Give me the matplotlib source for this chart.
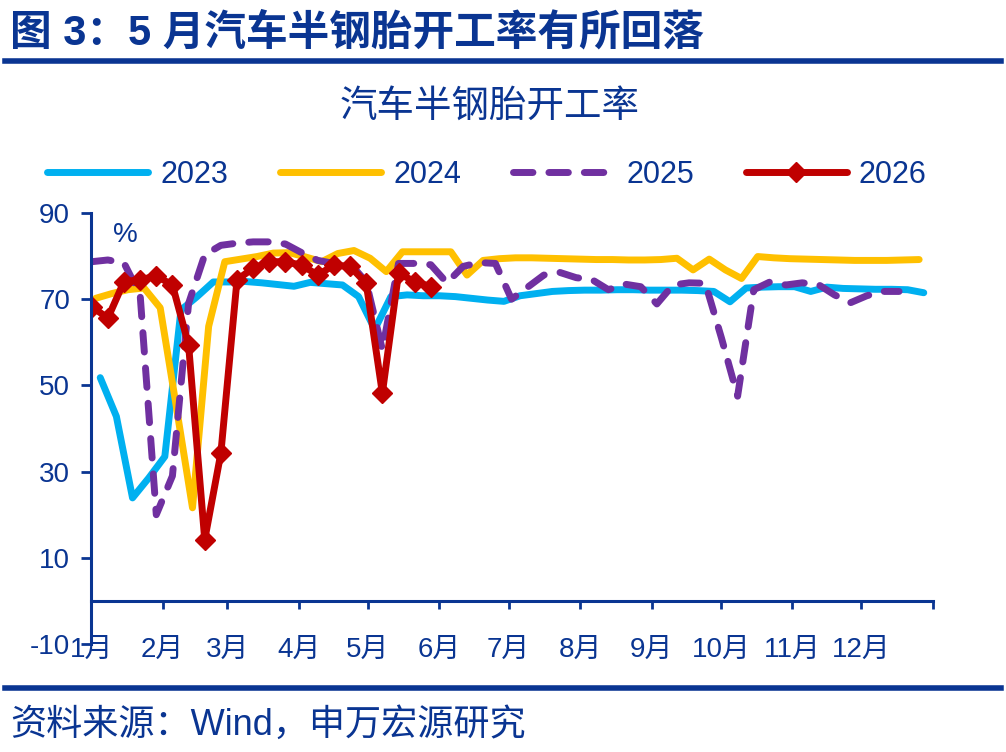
import numpy as np
import matplotlib.pyplot as plt
import matplotlib.lines as mlines

plt.rcParams['font.family'] = ['Liberation Sans', 'Noto Sans CJK SC', 'DejaVu Sans']
plt.rcParams['axes.unicode_minus'] = False

NAVY = '#0a3592'

# 周度数据（%）
y2023 = [51.8, 42.8, 23.9, 28.5, 33.5, 67.5, 70.6, 74.0, 74.0, 74.1, 73.8, 73.4, 73.0,
         73.9, 73.6, 73.3, 70.6, 63.0, 70.6, 71.0, 70.8, 70.8, 70.6, 70.2, 69.8, 69.5,
         70.8, 71.3, 71.8, 72.0, 72.1, 72.1, 72.2, 72.2, 72.1, 72.1, 72.1, 72.0, 71.8,
         69.4, 72.6, 72.8, 72.9, 72.9, 71.8, 72.8, 72.5, 72.4, 72.3, 72.3, 72.2, 71.5]
y2024 = [70.2, 71.3, 72.2, 72.6, 68.0, 45.0, 21.6, 63.7, 78.7, 79.3, 79.9, 80.7, 80.8,
         79.8, 78.7, 80.6, 81.3, 79.5, 76.4, 81.0, 81.0, 81.0, 81.0, 75.6, 79.0, 79.4,
         79.6, 79.6, 79.5, 79.4, 79.3, 79.2, 79.2, 79.1, 79.1, 79.2, 79.5, 76.8, 79.3,
         76.8, 74.8, 79.9, 79.6, 79.4, 79.3, 79.2, 79.1, 79.0, 79.0, 79.0, 79.1, 79.2]
y2025 = [78.7, 79.1, 78.4, 71.0, 20.0, 29.0, 69.0, 80.3, 82.5, 83.0, 83.3, 83.3, 82.8,
         80.8, 79.0, 78.3, 78.3, 74.0, 58.3, 78.3, 78.3, 78.0, 73.8, 77.6, 78.5, 78.3,
         70.0, 72.8, 75.6, 76.2, 75.0, 74.5, 72.2, 73.5, 72.9, 68.9, 73.3, 73.8, 73.7,
         61.0, 47.5, 72.2, 74.0, 73.3, 73.8, 73.4, 71.0, 69.2, 70.8, 71.8, 71.8]
y2026 = [68.3, 65.6, 74.1, 74.5, 75.4, 73.3, 59.4, 14.2, 34.3, 74.5, 77.2, 78.7, 78.7,
         77.9, 75.6, 77.9, 77.6, 73.7, 48.2, 76.0, 74.1, 72.9]

month_start = [0, 31, 59, 90, 120, 151, 181, 212, 243, 273, 304, 334, 365]
month_labels = ['1月', '2月', '3月', '4月', '5月', '6月', '7月', '8月', '9月', '10月', '11月', '12月', '']


def days(vals, offset):
    return np.arange(len(vals)) * 7 + offset


fig = plt.figure(figsize=(10.06, 7.52), dpi=100)
ax = fig.add_axes([91 / 1006, 108 / 752, 842 / 1006, 431 / 752])

lw = 5
dash = (2.8, 2.3)
ax.plot(days(y2023, 4), y2023, color='#00B0F0', lw=lw, solid_capstyle='round', solid_joinstyle='round')
ax.plot(days(y2024, 2), y2024, color='#FFC000', lw=lw, solid_capstyle='round', solid_joinstyle='round')
ax.plot(days(y2025, 0.3), y2025, color='#7030A0', lw=lw, dashes=dash,
        dash_capstyle='round', dash_joinstyle='round')
ax.plot(days(y2026, 0.3), y2026, color='#C00000', lw=lw, marker='D', ms=10,
        solid_joinstyle='round')

ax.set_xlim(0, 365)
ax.set_ylim(-10, 90)
ax.set_yticks([-10, 10, 30, 50, 70, 90])
ax.set_xticks(month_start)
ax.set_xticklabels(month_labels)

for s in ['top', 'right']:
    ax.spines[s].set_visible(False)
ax.spines['bottom'].set_position(('data', 0))
ax.spines['left'].set_color(NAVY)
ax.spines['bottom'].set_color(NAVY)
ax.spines['left'].set_linewidth(2.2)
ax.spines['bottom'].set_linewidth(2.2)
ax.tick_params(axis='y', direction='out', length=7, width=2, color=NAVY, pad=8,
               labelsize=20, labelcolor=NAVY)
ax.tick_params(axis='x', direction='out', length=6, width=2, color=NAVY, pad=20,
               labelsize=20, labelcolor=NAVY)

ax.text(15, 85, '%', fontsize=20, color=NAVY, ha='center', va='center')

# 图例
handles = [
    mlines.Line2D([], [], color='#00B0F0', lw=lw, solid_capstyle='round'),
    mlines.Line2D([], [], color='#FFC000', lw=lw, solid_capstyle='round'),
    mlines.Line2D([], [], color='#7030A0', lw=lw, dashes=dash, dash_capstyle='round'),
    mlines.Line2D([], [], color='#C00000', lw=lw, marker='D', ms=10, solid_capstyle='round'),
]
leg = fig.legend(handles, ['2023', '2024', '2025', '2026'], loc='center', ncol=4,
                 bbox_to_anchor=(487 / 1006, 1 - 175 / 752), frameon=False,
                 fontsize=22, handlelength=3.3, handletextpad=0.4, columnspacing=1.7,
                 numpoints=1)
for t in leg.get_texts():
    t.set_color(NAVY)

fig.text(490 / 1006, 1 - 107 / 752, '汽车半钢胎开工率', fontsize=27, color=NAVY,
         ha='center', va='center')

# 标题与来源
fig.text(10 / 1006, 1 - 33 / 752, '图 3：5 月汽车半钢胎开工率有所回落', fontsize=30,
         fontweight='bold', color=NAVY, ha='left', va='center')
fig.add_artist(mlines.Line2D([5 / 1006, 1001 / 1006], [1 - 61 / 752] * 2, color=NAVY, lw=4))
fig.add_artist(mlines.Line2D([5 / 1006, 1001 / 1006], [1 - 688 / 752] * 2, color=NAVY, lw=4))
fig.text(10 / 1006, 1 - 725 / 752, '资料来源：Wind，申万宏源研究', fontsize=26, color=NAVY,
         ha='left', va='center')

fig.savefig('out.png', dpi=100)
